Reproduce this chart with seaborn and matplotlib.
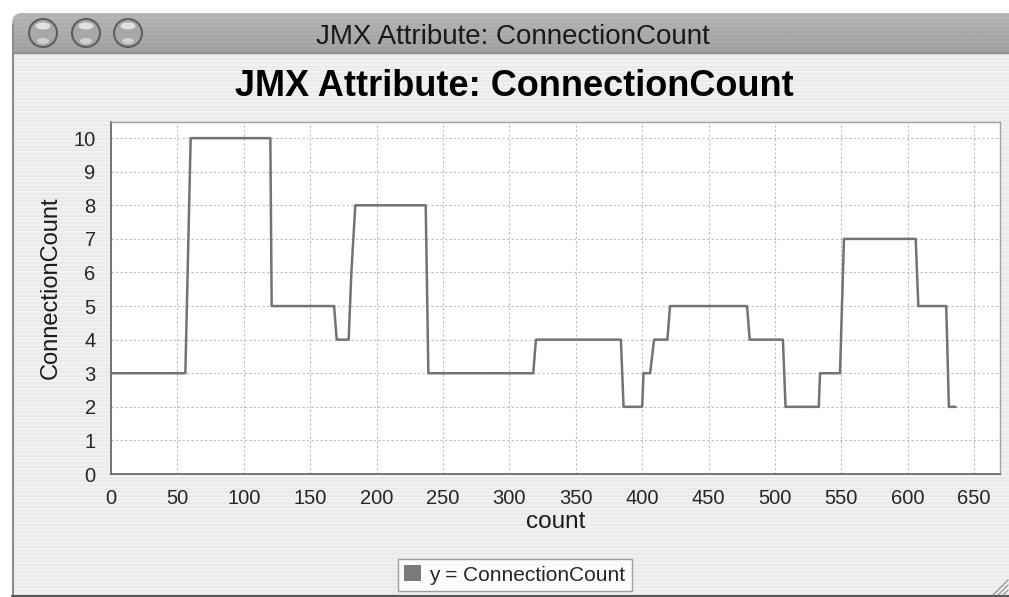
import numpy as np
import matplotlib
matplotlib.use("Agg")
import matplotlib.pyplot as plt
import seaborn as sns
from matplotlib.patches import Circle, FancyBboxPatch, Patch, Ellipse

# data (step changes of the connection count)
counts = [0, 56, 60, 120, 121, 168, 170, 179, 181, 184, 237, 239, 318, 320,
          384, 386, 400, 401, 406, 409, 419, 421, 479, 481, 506, 508, 533,
          534, 549, 552, 606, 608, 629, 631, 636]
values = [3, 3, 10, 10, 5, 5, 4, 4, 6, 8, 8, 3, 3, 4,
          4, 2, 2, 3, 3, 4, 4, 5, 5, 4, 4, 2, 2,
          3, 3, 7, 7, 5, 5, 2, 2]
x_ticks = list(range(0, 651, 50))
y_ticks = list(range(0, 11))
chart_title = "JMX Attribute: ConnectionCount"
series_name = "y = ConnectionCount"

sns.set_style("white")
plt.rcParams['font.family'] = ['Liberation Sans', 'DejaVu Sans']

W, H = 1009, 597
fig = plt.figure(figsize=(W / 100, H / 100), dpi=100)
fig.patch.set_facecolor("white")

# window chrome in pixel coordinates
bg = fig.add_axes([0, 0, 1, 1], zorder=-10)
bg.set_xlim(0, W)
bg.set_ylim(H, 0)
bg.axis("off")

rows = np.arange(H)
stripes = np.where((rows // 2) % 2 == 0, 0.945, 0.915)[:, None]
bg.imshow(stripes, cmap="gray", vmin=0, vmax=1, aspect="auto",
          extent=[12, W + 20, 596, 53], interpolation="nearest")

bar_rows = np.linspace(0.72, 0.64, 40)
bar_rows = bar_rows - np.where((np.arange(40) // 2) % 2 == 0, 0.0, 0.02)
win = FancyBboxPatch((12, 13), W + 40, 120, boxstyle="round,pad=0,rounding_size=10",
                     facecolor="none", edgecolor="none", transform=bg.transData)
bg.add_patch(win)
tb = bg.imshow(bar_rows[:, None], cmap="gray", vmin=0, vmax=1, aspect="auto",
               extent=[12, W + 20, 53, 13], interpolation="bilinear")
tb.set_clip_path(win)
bg.plot([12, W], [53, 53], color="#8a8a8a", lw=1)
bg.plot([12.5, 12.5], [25, 596], color="#8c8c8c", lw=1.5)
bg.plot([12, W], [595.5, 595.5], color="#555555", lw=1.5)

for cx in (43, 86, 128):
    bg.add_patch(Circle((cx, 33), 14, facecolor="#a8a8a8", edgecolor="#5e5e5e", lw=1.5))
    bg.add_patch(Ellipse((cx, 26), 15, 7, facecolor="#e2e2e2", edgecolor="none"))
    bg.add_patch(Ellipse((cx, 41), 12, 6, facecolor="#d0d0d0", edgecolor="none"))

for k in range(3):
    off = 6 + k * 5
    bg.plot([W - off, W - 1], [595, 595 - off + 1], color="#9a9a9a", lw=1)

fig.text(513 / W, 1 - 37 / H, chart_title, ha="center", va="center",
         fontsize=20, color="#1a1a1a")
fig.text(514 / W, 1 - 87 / H, chart_title, ha="center", va="center",
         fontsize=26, fontweight="bold", color="black")

# chart area
ax = fig.add_axes([111 / W, 1 - 474 / H, 889 / W, 352 / H])
ax.set_facecolor("white")
sns.lineplot(x=counts, y=values, ax=ax, color="#737373", lw=1.8,
             estimator=None, sort=False)
ax.set_xlim(0, 669.5)
ax.set_ylim(0, 10.48)
ax.set_xticks(x_ticks)
ax.set_yticks(y_ticks)
ax.grid(True, color="#bdbdbd", linestyle=(0, (2, 2)), lw=0.8)
ax.tick_params(direction="out", length=4, width=1, color="#777777",
               labelsize=14.5, labelcolor="#262626")
ax.tick_params(axis="x", pad=7)
ax.tick_params(axis="y", pad=7)
for side in ("left", "bottom"):
    ax.spines[side].set_color("#6a6a6a")
    ax.spines[side].set_linewidth(1.3)
for side in ("top", "right"):
    ax.spines[side].set_visible(True)
    ax.spines[side].set_color("#a0a0a0")
    ax.spines[side].set_linewidth(1)

ax.set_xlabel("count", fontsize=17.5, color="#1a1a1a")
ax.set_ylabel("ConnectionCount", fontsize=17, color="#1a1a1a")
ax.xaxis.set_label_coords(0.5, -(511 - 474) / 352)
ax.yaxis.set_label_coords(-(111 - 62) / 889, (474 - 288) / 352)

handle = Patch(facecolor="#7a7a7a", edgecolor="none")
leg = fig.legend([handle], [series_name], loc="center",
                 bbox_to_anchor=(515 / W, 1 - 575 / H), fontsize=15,
                 frameon=True, fancybox=False, handlelength=0.8,
                 handleheight=0.8, handletextpad=0.4, borderpad=0.3,
                 borderaxespad=0)
leg.get_frame().set_edgecolor("#8a8a8a")
leg.get_frame().set_facecolor("white")
leg.get_frame().set_linewidth(1)

fig.savefig("out.png", dpi=100)
